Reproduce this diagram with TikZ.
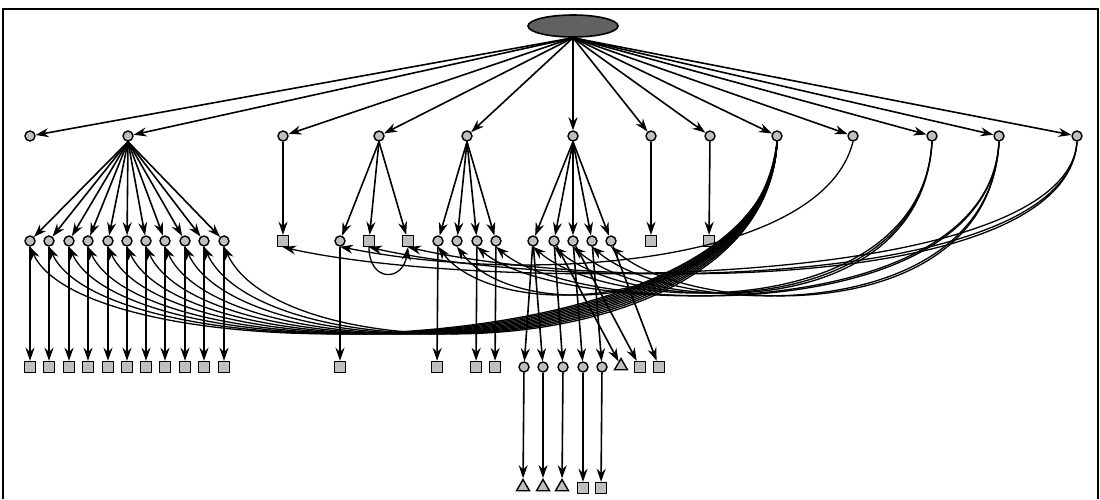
\documentclass[tikz,border=0pt]{standalone}
\usetikzlibrary{arrows.meta,shapes.geometric}
\begin{document}
\begin{tikzpicture}[x=1pt,y=-1pt,
  nd/.style={draw=black, line width=1.4pt, fill=gray!50, inner sep=0pt},
  cnode/.style={nd, circle, minimum size=10pt},
  snode/.style={nd, rectangle, minimum size=11pt},
  tnode/.style={nd, regular polygon, regular polygon sides=3, minimum size=15pt},
  rootnode/.style={draw=black, line width=1.6pt, fill=black!62, ellipse, minimum width=90pt, minimum height=22pt, inner sep=0pt},
  edge/.style={line width=1.6pt, -{Stealth[length=13pt,width=9pt]}},
  back/.style={line width=1.3pt, -{Stealth[length=13pt,width=9pt]}},
  frame/.style={line width=2pt}]
\useasboundingbox (0,0) rectangle (1100,499);
% frame
\coordinate (fl) at (2.5,499);
\coordinate (ftl) at (2.5,9);
\coordinate (ftr) at (1097.5,9);
\coordinate (fr) at (1097.5,499);
\draw[frame] (fl) -- (ftl) -- (ftr) -- (fr);
% root
\node[rootnode] (root) at (573,26) {};
% level 1
\foreach \n/\x in {1/30,2/128,3/283,4/379,5/467,6/573,7/651,8/710,9/777,10/853,11/932,12/999,13/1077}
  \node[cnode] (a\n) at (\x,136) {};
% level 2
\foreach \n/\x in {1/30,2/49,3/69,4/88,5/108,6/127,7/146,8/165,9/185,10/204,11/224}
  \node[cnode] (b\n) at (\x,241) {};
\node[snode] (c1) at (283,241) {};
\node[cnode] (d1) at (340,241) {};
\node[snode] (d2) at (369,241) {};
\node[snode] (d3) at (408,241) {};
\foreach \n/\x in {1/438,2/457,3/477,4/496}
  \node[cnode] (e\n) at (\x,241) {};
\foreach \n/\x in {1/533,2/554,3/573,4/592,5/611}
  \node[cnode] (f\n) at (\x,241) {};
\node[snode] (g1) at (651,241) {};
\node[snode] (h1) at (709,241) {};
% level 3
\foreach \n/\x in {1/30,2/49,3/69,4/88,5/108,6/127,7/146,8/165,9/185,10/204,11/224}
  \node[snode] (bb\n) at (\x,367) {};
\node[snode] (dd1) at (340,367) {};
\node[snode] (ee1) at (437,367) {};
\node[snode] (ee3) at (476,367) {};
\node[snode] (ee4) at (495,367) {};
\foreach \n/\x in {1/524,2/543,3/563,4/583,5/602}
  \node[cnode] (ff\n) at (\x,367) {};
\node[tnode] (ft) at (621,366) {};
\node[snode] (fs1) at (640,367) {};
\node[snode] (fs2) at (659,367) {};
% level 4
\node[tnode] (gg1) at (523,487) {};
\node[tnode] (gg2) at (543,487) {};
\node[tnode] (gg3) at (562,487) {};
\node[snode] (gg4) at (583,488) {};
\node[snode] (gg5) at (601,488) {};
% tree edges
\foreach \n in {1,...,13} \draw[edge] (root.south) -- (a\n);
\foreach \n in {1,...,11} \draw[edge] (a2.south) -- (b\n);
\foreach \n in {1,...,11} \draw[edge] (b\n) -- (bb\n);
\draw[edge] (a3) -- (c1);
\foreach \t in {d1,d2,d3} \draw[edge] (a4.south) -- (\t);
\foreach \n in {1,...,4} \draw[edge] (a5.south) -- (e\n);
\foreach \n in {1,...,5} \draw[edge] (a6.south) -- (f\n);
\draw[edge] (a7) -- (g1);
\draw[edge] (a8) -- (h1);
\draw[edge] (d1) -- (dd1);
\draw[edge] (e1) -- (ee1);
\draw[edge] (e3) -- (ee3);
\draw[edge] (e4) -- (ee4);
\draw[edge] (f1) -- (ff1);
\draw[edge] (f1) -- (ff2);
\draw[edge] (f2) -- (ff3);
\draw[edge] (f2) -- (ft);
\draw[edge] (f3) -- (ff4);
\draw[edge] (f3) -- (fs1);
\draw[edge] (f4) -- (ff5);
\draw[edge] (f5) -- (fs2);
\draw[edge] (ff1) -- (gg1);
\draw[edge] (ff2) -- (gg2);
\draw[edge] (ff3) -- (gg3);
\draw[edge] (ff4) -- (gg4);
\draw[edge] (ff5) -- (gg5);
% back edges
\foreach \n in {1,...,11}
  \draw[back] (a9.south) .. controls +(-10,230) and +(60,130) .. (b\n.south);
\foreach \t in {e1,e2}
  \draw[back] (a9.south) .. controls +(-20,170) and +(60,80) .. (\t.south);
\draw[back] (a10.south) .. controls +(-30,120) and +(200,40) .. (d1.south);
\foreach \t in {f1,f2,f3}
  \draw[back] (a11.south) .. controls +(-10,180) and +(80,70) .. (\t.south);
\foreach \t in {f4,f5,e3,e4}
  \draw[back] (a12.south) .. controls +(-10,190) and +(80,70) .. (\t.south);
\foreach \t in {c1,d2,d3}
  \draw[back] (a13.south) .. controls +(-10,150) and +(200,45) .. (\t.south);
\draw[back] (d2.south) .. controls +(0,35) and +(-5,35) .. (d3.south);
\end{tikzpicture}
\end{document}
